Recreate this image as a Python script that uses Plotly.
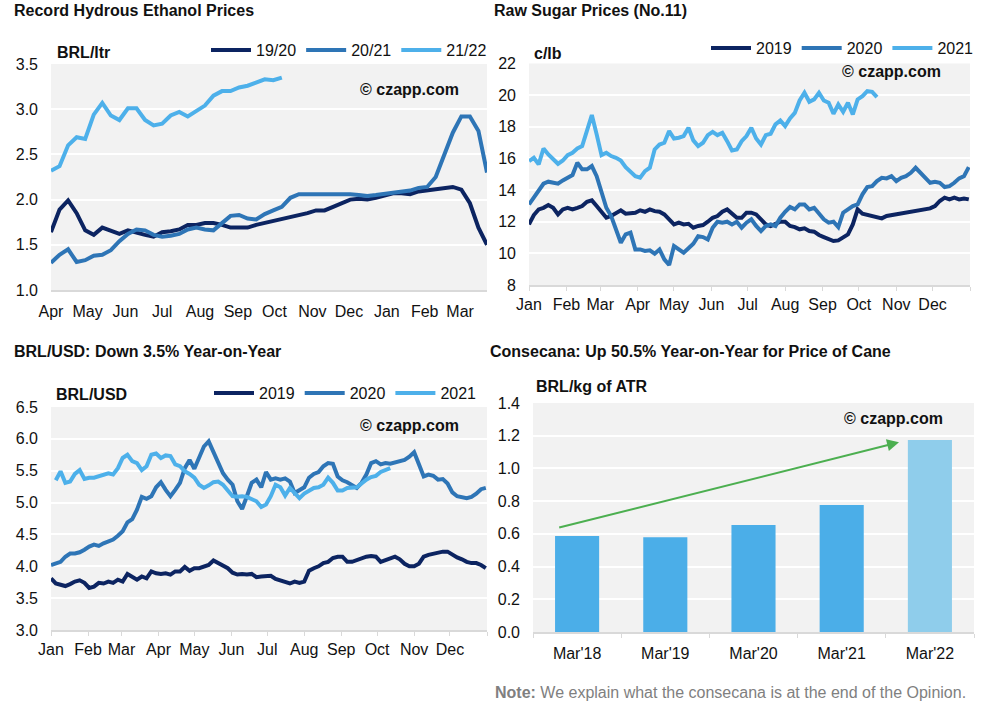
import pandas as pd
import plotly.graph_objects as go

# ---------------- DATA ----------------
# Panel 1: hydrous ethanol, weekly, season Apr-Mar (BRL/ltr)
eth_1920 = [1.64, 1.89, 1.99, 1.85, 1.66, 1.61, 1.69, 1.66, 1.62, 1.66, 1.63, 1.61, 1.59,
            1.64, 1.65, 1.67, 1.72, 1.72, 1.74, 1.74, 1.72, 1.69, 1.69, 1.69, 1.72, 1.74,
            1.77, 1.79, 1.81, 1.82, 1.85, 1.88, 1.88, 1.92, 1.96, 2.00, 2.01, 2.00, 2.02,
            2.04, 2.07, 2.07, 2.06, 2.09, 2.10, 2.11, 2.12, 2.14, 2.11, 1.96, 1.69, 1.50]
eth_2021 = [1.30, 1.39, 1.45, 1.31, 1.33, 1.38, 1.39, 1.44, 1.54, 1.62, 1.67, 1.66, 1.61,
            1.59, 1.60, 1.62, 1.67, 1.69, 1.67, 1.66, 1.74, 1.82, 1.83, 1.79, 1.78, 1.84,
            1.88, 1.92, 2.02, 2.06, 2.06, 2.06, 2.07, 2.07, 2.07, 2.06, 2.05, 2.04, 2.05,
            2.06, 2.08, 2.08, 2.10, 2.13, 2.14, 2.25, 2.51, 2.74, 2.92, 2.92, 2.76, 2.30]
eth_2122 = [2.32, 2.37, 2.60, 2.69, 2.67, 2.94, 3.07, 2.93, 2.88, 3.01, 3.01, 2.88, 2.82,
            2.84, 2.93, 2.97, 2.92, 2.98, 3.04, 3.15, 3.20, 3.20, 3.24, 3.26, 3.29, 3.33,
            3.32, 3.35]
eth_labels = ["19/20", "20/21", "21/22"]

# Panel 2: raw sugar No.11 (c/lb), sampled every 4 days through the year
sugar_2019 = [11.83, 12.42, 12.78, 12.88, 13.05, 12.88, 12.46, 12.78, 12.88, 12.78, 12.88, 12.99,
              13.26, 13.35, 12.99, 12.57, 12.25, 12.36, 12.57, 12.72, 12.51, 12.57, 12.57, 12.72,
              12.63, 12.78, 12.67, 12.63, 12.46, 12.15, 11.83, 11.94, 11.83, 11.87, 11.62, 11.73,
              11.79, 12.00, 12.25, 12.36, 12.63, 12.78, 12.51, 12.25, 12.25, 12.57,
              12.57, 12.46, 12.15, 11.83, 11.73, 11.87, 12.00, 12.00, 11.73, 11.66, 11.52, 11.58,
              11.41, 11.37, 11.16, 11.03, 10.88, 10.78, 10.82, 10.99, 11.20, 11.83, 12.78, 12.51,
              12.42, 12.34, 12.25, 12.21, 12.36, 12.42, 12.42, 12.51, 12.57, 12.63, 12.67, 12.72,
              12.84, 12.84, 12.99, 13.31, 13.52, 13.41, 13.52, 13.41, 13.47, 13.41]
sugar_2020 = [13.09, 13.56, 13.98, 14.40, 14.53, 14.46, 14.40, 14.61, 14.78, 14.95, 15.73, 15.31,
              15.31, 15.52, 14.88, 13.83, 12.88, 12.36, 11.52, 10.67, 11.20, 11.31, 10.25, 10.25,
              10.15, 10.19, 9.98, 10.25, 9.62, 9.26, 10.46, 10.25, 10.04, 10.32, 10.61, 11.09,
              11.03, 10.88, 11.62, 12.00, 11.94, 12.00, 11.83, 12.00, 11.62, 11.94,
              12.15, 11.73, 11.41, 11.73, 11.83, 11.73, 12.25, 12.63, 12.93, 12.78, 13.09, 13.09,
              12.78, 12.88, 12.51, 12.15, 11.94, 12.00, 11.66, 12.57, 12.78, 12.99, 13.09, 13.73,
              14.19, 14.25, 14.57, 14.78, 14.74, 14.88, 14.57, 14.78, 14.88, 15.09, 15.41, 15.09,
              14.78, 14.46, 14.53, 14.46, 14.19, 14.25, 14.46, 14.74, 14.88, 15.45]
sugar_2021 = [15.83, 16.04, 15.62, 16.63, 16.25, 15.94, 15.66, 15.87, 16.21, 16.36, 16.63, 16.78,
              17.83, 18.74, 17.52, 16.21, 16.36, 16.15, 16.04, 15.87, 15.45, 15.16, 14.88, 14.78,
              15.20, 15.41, 16.57, 16.88, 16.99, 17.73, 17.26, 17.31, 17.41, 17.94, 17.14, 16.78,
              16.99, 17.47, 17.68, 17.47, 17.62, 17.09, 16.50, 16.57, 17.09, 17.41,
              17.94, 17.26, 16.88, 17.47, 17.56, 18.15, 18.40, 18.04, 18.53, 18.88, 19.66, 20.15,
              19.58, 19.73, 20.15, 19.66, 19.52, 18.82, 19.41, 18.95, 19.52, 18.78, 19.73, 19.94,
              20.25, 20.21, 19.87]

# Panel 3: BRL/USD, sampled every 4 days through the year
fx_2019 = [3.81, 3.73, 3.71, 3.69, 3.72, 3.76, 3.78, 3.74, 3.66, 3.68, 3.74, 3.73, 3.76, 3.74,
           3.79, 3.76, 3.88, 3.84, 3.79, 3.84, 3.81, 3.92, 3.89, 3.88, 3.89, 3.87, 3.92, 3.92,
           3.99, 3.93, 3.97, 3.97, 4.00, 4.02, 4.09, 4.05, 4.02, 3.97, 3.90, 3.87, 3.88, 3.87,
           3.88, 3.83, 3.84, 3.85,
           3.85, 3.80, 3.78, 3.76, 3.73, 3.76, 3.74, 3.76, 3.93, 3.97, 4.00, 4.05, 4.07, 4.13,
           4.15, 4.15, 4.07, 4.07, 4.10, 4.13, 4.15, 4.16, 4.15, 4.07, 4.10, 4.13, 4.15, 4.11,
           4.04, 4.00, 4.00, 4.04, 4.15, 4.18, 4.20, 4.21, 4.23, 4.23, 4.18, 4.14, 4.11, 4.07,
           4.05, 4.05, 4.02, 3.97]
fx_2020 = [4.02, 4.04, 4.07, 4.15, 4.20, 4.20, 4.22, 4.26, 4.31, 4.34, 4.32, 4.36, 4.39, 4.42,
           4.48, 4.55, 4.69, 4.74, 4.89, 5.09, 5.06, 5.10, 5.24, 5.32, 5.20, 5.10, 5.20, 5.31,
           5.54, 5.67, 5.53, 5.70, 5.88, 5.96, 5.78, 5.62, 5.46, 5.36, 5.28, 5.02, 4.90, 5.10,
           5.31, 5.36, 5.24, 5.48,
           5.36, 5.38, 5.36, 5.38, 5.33, 5.15, 5.19, 5.24, 5.39, 5.45, 5.48, 5.57, 5.62, 5.61,
           5.41, 5.35, 5.32, 5.27, 5.23, 5.31, 5.44, 5.62, 5.65, 5.60, 5.62, 5.61, 5.63, 5.65,
           5.67, 5.72, 5.79, 5.60, 5.41, 5.44, 5.42, 5.36, 5.37, 5.30, 5.16, 5.10, 5.09, 5.07,
           5.09, 5.14, 5.21, 5.23]
fx_2021 = [5.35, 5.49, 5.31, 5.33, 5.45, 5.51, 5.37, 5.39, 5.39, 5.41, 5.44, 5.46, 5.44, 5.54,
           5.70, 5.75, 5.65, 5.62, 5.51, 5.57, 5.75, 5.77, 5.70, 5.74, 5.73, 5.60, 5.57, 5.49,
           5.45, 5.39, 5.28, 5.23, 5.27, 5.32, 5.33, 5.28, 5.19, 5.10, 5.09, 5.10, 5.09, 5.06,
           5.02, 4.93, 4.97,
           5.10, 5.28, 5.24, 5.11, 5.23, 5.15, 5.07, 5.14, 5.19, 5.23, 5.24, 5.28, 5.39, 5.31,
           5.19, 5.19, 5.23, 5.23, 5.24, 5.30, 5.36, 5.40, 5.42, 5.48, 5.51, 5.54]
year_labels = ["2019", "2020", "2021"]

# Panel 4: Consecana (BRL/kg of ATR)
cane_cats = ["Mar'18", "Mar'19", "Mar'20", "Mar'21", "Mar'22"]
cane_vals = [0.587, 0.580, 0.654, 0.776, 1.174]
trend_start = (-0.22, 0.636)
trend_end = (3.65, 1.16)

month_names = ["Jan", "Feb", "Mar", "Apr", "May", "Jun", "Jul", "Aug", "Sep", "Oct", "Nov", "Dec"]

# ---------------- helpers ----------------
W, H = 988, 710
def px(x): return x / W
def py(y): return 1 - y / H

NAVY, MID, LIGHT = "#0C2461", "#2E75B6", "#4DB0EA"
colors = [NAVY, MID, LIGHT]
FONT = "Liberation Sans, Arial, sans-serif"
BG = "#F2F2F2"
FS = 16

week_dates = pd.date_range("2019-04-01", periods=52, freq="7D")
base = pd.Timestamp("2021-01-01")
def day_dates(days): return [base + pd.Timedelta(days=int(d)) for d in days]
days_full = list(range(0, 365, 4))
sugar_days_2021 = list(range(0, 289, 4))
fx_days_2021 = list(range(4, 285, 4))

fig = go.Figure()
LW = 4
for name, vals, c in zip(eth_labels, [eth_1920, eth_2021, eth_2122], colors):
    fig.add_trace(go.Scatter(x=week_dates[:len(vals)], y=vals, mode="lines", name=name,
                             line=dict(color=c, width=LW), xaxis="x", yaxis="y", legend="legend"))
for name, vals, days, c in zip(year_labels, [sugar_2019, sugar_2020, sugar_2021],
                               [days_full, days_full, sugar_days_2021], colors):
    fig.add_trace(go.Scatter(x=day_dates(days), y=vals, mode="lines", name=name,
                             line=dict(color=c, width=LW), xaxis="x2", yaxis="y2", legend="legend2"))
for name, vals, days, c in zip(year_labels, [fx_2019, fx_2020, fx_2021],
                               [days_full, days_full, fx_days_2021], colors):
    fig.add_trace(go.Scatter(x=day_dates(days), y=vals, mode="lines", name=name,
                             line=dict(color=c, width=LW), xaxis="x3", yaxis="y3", legend="legend3"))
fig.add_trace(go.Bar(x=cane_cats, y=cane_vals, width=0.5, showlegend=False,
                     marker=dict(color=["#4BAEE8"] * 4 + ["#8FCDEB"], line=dict(width=0)),
                     xaxis="x4", yaxis="y4"))

tickfont = dict(family=FONT, size=FS, color="#111111")
def yaxis(domain, rng, dtick, fmt, anchor):
    return dict(domain=domain, range=rng, dtick=dtick, tickformat=fmt, showgrid=True,
                gridcolor="white", gridwidth=2, zeroline=False, showline=False, automargin=False,
                tickfont=tickfont, ticks="", ticklabelstandoff=12, anchor=anchor, fixedrange=True)

month_ticks = [base + pd.DateOffset(months=i) for i in range(13)]
month_text = month_names + [""]
eth_ticks = [pd.Timestamp("2019-04-01") + pd.DateOffset(months=i) for i in range(12)]
eth_text = month_names[3:] + month_names[:3]

def xdate(domain, rng, tv, tt, anchor, ticks, standoff):
    return dict(domain=domain, range=rng, type="date", tickvals=tv, ticktext=tt, showgrid=False,
                showline=True, linecolor="#D9D9D9", linewidth=2, ticks=ticks, tickcolor="#D9D9D9",
                ticklen=4, tickwidth=1, tickfont=tickfont, anchor=anchor, fixedrange=True,
                ticklabelstandoff=standoff, automargin=False)

X1 = [px(51), px(487)]
X2 = [px(529), px(970)]
X4 = [px(533), px(974)]
fig.update_layout(
    width=W, height=H, margin=dict(l=0, r=0, t=0, b=0, autoexpand=False),
    paper_bgcolor="white", plot_bgcolor=BG,
    font=dict(family=FONT, size=FS, color="#111111"),
    xaxis=xdate(X1, [week_dates[0], week_dates[-1]], eth_ticks, eth_text, "y", "", 6),
    yaxis=yaxis([py(290), py(64)], [1.0, 3.5], 0.5, ".1f", "x"),
    xaxis2=xdate(X2, [base, base + pd.Timedelta(days=365)], month_ticks, month_text, "y2", "outside", 0),
    yaxis2=yaxis([py(285), py(63.5)], [8, 22], 2, "d", "x2"),
    xaxis3=xdate(X1, [base, base + pd.Timedelta(days=365)], month_ticks, month_text, "y3", "outside", 0),
    yaxis3=yaxis([py(630), py(407)], [3.0, 6.5], 0.5, ".1f", "x3"),
    xaxis4=dict(domain=X4, range=[-0.5, 4.5], type="category", showgrid=False, showline=True,
                linecolor="#D9D9D9", linewidth=2, ticks="outside", tickson="boundaries",
                tickcolor="#D9D9D9", ticklen=4, tickfont=tickfont, anchor="y4", fixedrange=True,
                ticklabelstandoff=6, automargin=False),
    yaxis4=yaxis([py(632), py(403)], [0, 1.4], 0.2, ".1f", "x4"),
    bargap=0.5,
)

def legend(x, y):
    return dict(orientation="h", x=px(x), y=py(y), xanchor="left", yanchor="middle",
                bgcolor="rgba(0,0,0,0)", font=dict(family=FONT, size=FS, color="#111111"),
                itemwidth=40, tracegroupgap=0, traceorder="normal")
fig.update_layout(legend=legend(206, 50), legend2=legend(706, 48), legend3=legend(209, 393))

ann = []
def text(x, y, t, size=FS, color="#111111", xanchor="left"):
    ann.append(dict(x=px(x), y=py(y), xref="paper", yref="paper", text=t, showarrow=False,
                    xanchor=xanchor, yanchor="middle", font=dict(family=FONT, size=size, color=color)))
text(12, 11, "<b>Record Hydrous Ethanol Prices</b>")
text(492, 11, "<b>Raw Sugar Prices (No.11)</b>")
text(12, 351, "<b>BRL/USD: Down 3.5% Year-on-Year</b>")
text(488, 351, "<b>Consecana: Up 50.5% Year-on-Year for Price of Cane</b>")
text(55, 52, "<b>BRL/ltr</b>")
text(532, 53, "<b>c/lb</b>")
text(54, 394, "<b>BRL/USD</b>")
text(534, 386, "<b>BRL/kg of ATR</b>")
for (x, y) in [(409, 89), (891, 72), (409, 425), (893, 418)]:
    text(x, y, "<b>© czapp.com</b>", xanchor="center")
text(493, 692, "<b>Note:</b> We explain what the consecana is at the end of the Opinion.",
     color="#808080")
ann.append(dict(x=trend_end[0], y=trend_end[1], ax=trend_start[0], ay=trend_start[1],
                xref="x4", yref="y4", axref="x4", ayref="y4", showarrow=True, text="",
                arrowhead=2, arrowsize=1.2, arrowwidth=2, arrowcolor="#4CAF50"))
fig.update_layout(annotations=ann)

fig.write_html("out.html")
